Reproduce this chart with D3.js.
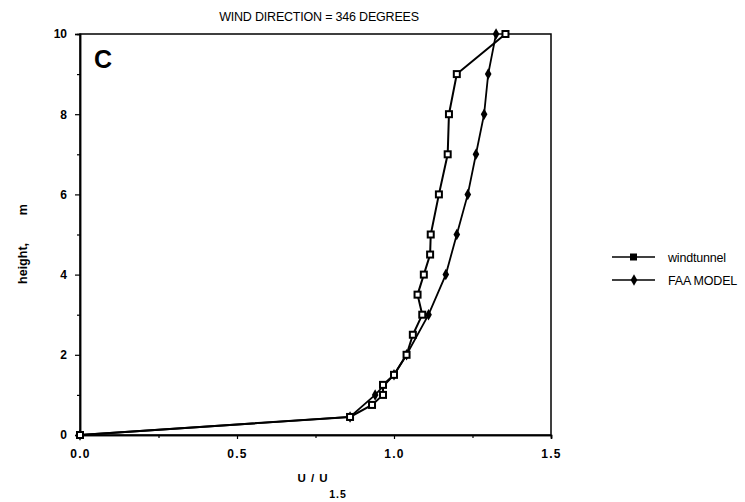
<!DOCTYPE html>
<html>
<head>
<meta charset="utf-8">
<script src="https://cdn.jsdelivr.net/npm/d3@7"></script>
<style>
  body { margin: 0; background: #fff; }
  text { font-family: "Liberation Sans", Arial, sans-serif; fill: #000; }
</style>
</head>
<body>
<div id="vis"></div>
<script>
// data: U/U1.5 against height (m)
const tunnelU = [0, 0.86, 0.93, 0.965, 0.965, 1.0, 1.04, 1.06, 1.09, 1.075, 1.095, 1.115, 1.117, 1.143, 1.171, 1.175, 1.2, 1.355]
const tunnelH = [0, 0.45, 0.75, 1.0, 1.25, 1.5, 2.0, 2.5, 3.0, 3.5, 4.0, 4.5, 5.0, 6.0, 7.0, 8.0, 9.0, 10]
const faaU = [0, 0.86, 0.94, 1.0, 1.04, 1.11, 1.165, 1.2, 1.235, 1.261, 1.287, 1.3, 1.325]
const faaH = [0, 0.45, 1.0, 1.5, 2.0, 3.0, 4.0, 5.0, 6.0, 7.0, 8.0, 9.0, 10]
const xTicks = [0, 0.5, 1.0, 1.5]
const xMinor = [0.25, 0.75, 1.25]
const yTicks = [0, 2, 4, 6, 8, 10]
const yMinor = [1, 3, 5, 7, 9]
const seriesNames = ['windtunnel', 'FAA MODEL']

const W = 745, H = 502
const margin = {left: 80, top: 34, right: 194, bottom: 67}

let svg = d3.select('#vis').append('svg')
    .attr('width', W)
    .attr('height', H)

let x = d3.scaleLinear().domain([0, 1.5]).range([margin.left, W - margin.right])
let y = d3.scaleLinear().domain([0, 10]).range([H - margin.bottom, margin.top])

// box
svg.append('rect')
    .attr('x', x(0)).attr('y', y(10))
    .attr('width', x(1.5) - x(0)).attr('height', y(0) - y(10))
    .attr('fill', 'none').attr('stroke', '#000').attr('stroke-width', 1.5)

// axes
let xAxis = svg.append('g')
    .attr('transform', `translate(0,${y(0)})`)
    .call(d3.axisBottom(x).tickValues(xTicks).tickFormat(d3.format('.1f')).tickSize(4).tickPadding(10))
xAxis.append('g').call(d3.axisBottom(x).tickValues(xMinor).tickFormat('').tickSize(3))
xAxis.selectAll('.domain').attr('stroke-width', 1.5)
xAxis.selectAll('text').attr('font-size', 12).attr('letter-spacing', 1.2).attr('font-weight', 'bold')

let yAxis = svg.append('g')
    .attr('transform', `translate(${x(0)},0)`)
    .call(d3.axisLeft(y).tickValues(yTicks).tickSize(5).tickPadding(8))
yAxis.append('g').call(d3.axisLeft(y).tickValues(yMinor).tickFormat('').tickSize(3))
yAxis.selectAll('.domain').attr('stroke-width', 1.5)
yAxis.selectAll('text').attr('font-size', 12).attr('font-weight', 'bold')

svg.selectAll('.domain').attr('stroke', '#000')
svg.selectAll('.tick line').attr('stroke', '#000').attr('stroke-width', 1.2)

// titles
svg.append('text')
    .attr('x', 319).attr('y', 21)
    .attr('text-anchor', 'middle')
    .attr('font-size', 12.5)
    .attr('letter-spacing', -0.2)
    .text('WIND DIRECTION = 346 DEGREES')

svg.append('text')
    .attr('x', 94).attr('y', 68)
    .attr('font-size', 25).attr('font-weight', 'bold')
    .text('C')

svg.append('text')
    .attr('transform', 'translate(27,244) rotate(-90)')
    .attr('text-anchor', 'middle')
    .attr('font-size', 12.5).attr('font-weight', 'bold')
    .attr('xml:space', 'preserve')
    .text('height,        m')

svg.append('text')
    .attr('x', 313).attr('y', 482)
    .attr('text-anchor', 'middle')
    .attr('font-size', 11.5).attr('font-weight', 'bold')
    .attr('letter-spacing', 1)
    .text('U / U')
svg.append('text')
    .attr('x', 338).attr('y', 498)
    .attr('text-anchor', 'middle')
    .attr('font-size', 10.5).attr('font-weight', 'bold')
    .attr('letter-spacing', 1)
    .text('1.5')

// series
let line = d3.line().x(d => x(d[0])).y(d => y(d[1]))
let tunnel = tunnelU.map((u, i) => [u, tunnelH[i]])
let faa = faaU.map((u, i) => [u, faaH[i]])

let plot = svg.append('g')
plot.append('path').datum(faa)
    .attr('d', line).attr('fill', 'none').attr('stroke', '#000').attr('stroke-width', 1.8)
plot.append('path').datum(tunnel)
    .attr('d', line).attr('fill', 'none').attr('stroke', '#000').attr('stroke-width', 2)

let diamond = d3.symbol().type(d3.symbolDiamond).size(38)
plot.selectAll('.faa').data(faa).enter()
    .append('path')
    .attr('class', 'faa')
    .attr('transform', d => `translate(${x(d[0])},${y(d[1])})`)
    .attr('d', diamond)
    .attr('fill', '#000')

plot.selectAll('.tunnel').data(tunnel).enter()
    .append('rect')
    .attr('class', 'tunnel')
    .attr('x', d => x(d[0]) - 3).attr('y', d => y(d[1]) - 3)
    .attr('width', 6).attr('height', 6)
    .attr('fill', '#fff').attr('stroke', '#000').attr('stroke-width', 2)

// legend
let legend = svg.append('g').attr('transform', 'translate(612,257)')
seriesNames.forEach((name, i) => {
    let g = legend.append('g').attr('transform', `translate(0,${i * 23})`)
    g.append('line').attr('x1', 0).attr('x2', 43).attr('stroke', '#000').attr('stroke-width', 1.3)
    if (i === 0) {
        g.append('rect').attr('x', 18).attr('y', -3.5).attr('width', 7).attr('height', 7).attr('fill', '#000')
    } else {
        g.append('path').attr('transform', 'translate(22,0)').attr('d', diamond).attr('fill', '#000')
    }
    g.append('text').attr('x', 56).attr('y', 4.5)
        .attr('font-size', 12.5).attr('letter-spacing', -0.2)
        .text(name)
})
</script>
</body>
</html>
